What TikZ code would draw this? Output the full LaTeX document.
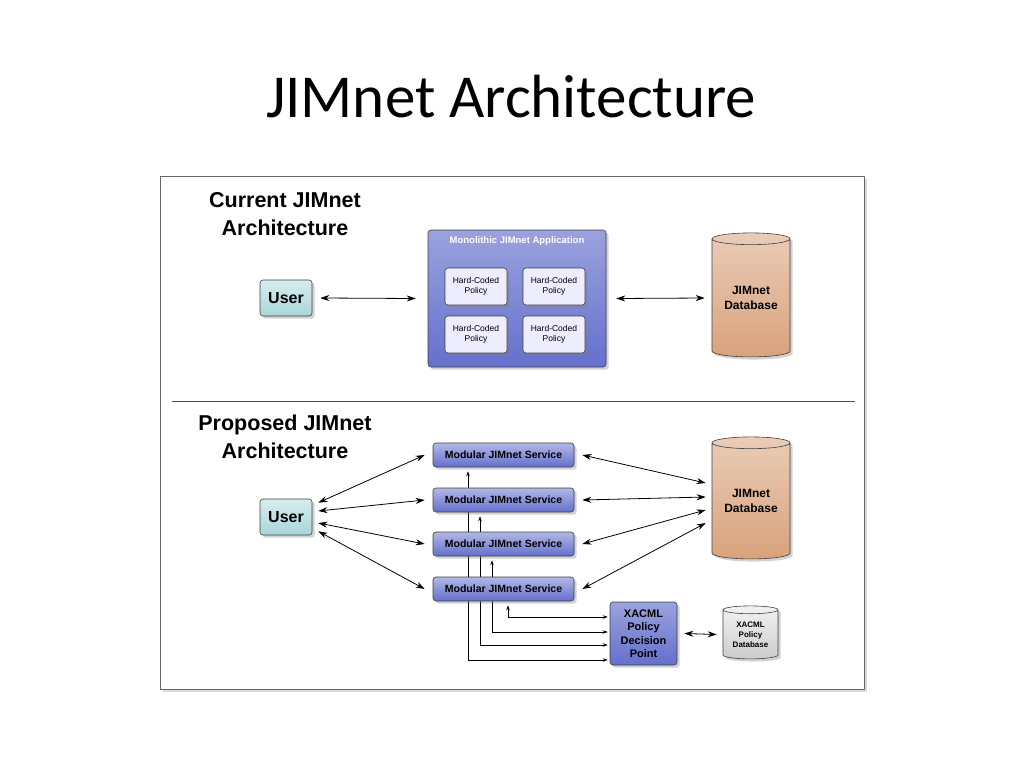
\documentclass[tikz,border=0pt]{standalone}
\usepackage{fontspec}
\setmainfont{Liberation Sans}
\newfontfamily\titlefont{Carlito}
\usetikzlibrary{shapes.geometric,shadows,backgrounds,arrows.meta}
\definecolor{svcblue}{HTML}{6470CC}
\definecolor{usrteal}{HTML}{A8D6DA}
\definecolor{dbtan}{HTML}{D9A27C}
\tikzset{box/.style = {draw=black!75, semithick, rounded corners=3pt, drop shadow={opacity=.35}},
         svc/.style = {box, top color=svcblue!50, bottom color=svcblue, minimum width=141pt, minimum height=24pt,
                       inner sep=0pt, font=\fontsize{10.5}{12}\bfseries\selectfont},
         usr/.style = {box, top color=usrteal!45, bottom color=usrteal, minimum width=52pt, minimum height=36pt,
                       font=\fontsize{16}{18}\bfseries\selectfont},
         hc/.style  = {box, fill=blue!7, minimum width=62pt, minimum height=37pt, inner sep=0pt, align=center,
                       font=\fontsize{8.5}{10}\selectfont},
         db/.style  = {cylinder, shape border rotate=90, draw=black!75, semithick, aspect=.22, align=center,
                       drop shadow={opacity=.35}, inner sep=0pt, font=\bfseries\selectfont},
         head/.style = {align=center, font=\fontsize{21.5}{28}\bfseries\selectfont},
         lnk/.style = {{Stealth[length=9pt,width=6pt]}-{Stealth[length=9pt,width=6pt]}, thick},
         pol/.style = {{Stealth[length=5pt,width=3.5pt]}-{Stealth[length=5pt,width=3.5pt]}, semithick}}
\begin{document}
\begin{tikzpicture}[x=1pt, y=-1pt]
  \useasboundingbox (0,0) rectangle (1024,768);
  \node[font=\titlefont\fontsize{61}{66}\selectfont] (title) at (511,97) {JIMnet Architecture};
  \coordinate (sepl) at (172,401); \coordinate (sepr) at (855,401);

  % current architecture
  \node[head] (cur) at (285,214) {Current JIMnet\\Architecture};
  \node[usr] (user1) at (286,298) {User};
  \node[box, top color=svcblue!65, bottom color=svcblue, minimum width=178pt, minimum height=137pt] (mono) at (517,298.5) {};
  \node[text=white, font=\fontsize{9.5}{11}\bfseries\selectfont] (monot) at (517,241) {Monolithic JIMnet Application};
  \node[hc] (hc1) at (476,286.5) {Hard-Coded\\Policy};
  \node[hc] (hc2) at (554,286.5) {Hard-Coded\\Policy};
  \node[hc] (hc3) at (476,334.5) {Hard-Coded\\Policy};
  \node[hc] (hc4) at (554,334.5) {Hard-Coded\\Policy};
  \node[db, top color=dbtan!55, bottom color=dbtan, minimum width=78pt, minimum height=124pt,
        font=\fontsize{12}{15}\bfseries\selectfont] (db1) at (751,298) {JIMnet\\Database};
  \draw[lnk] ([xshift=8pt]user1.east) -- ([xshift=-12pt]mono.west);
  \draw[lnk] ([xshift=10pt]mono.east) -- ([xshift=-7pt]db1.west);

  % proposed architecture
  \node[head] (prop) at (285,437) {Proposed JIMnet\\Architecture};
  \node[usr] (user2) at (286,517) {User};
  \node[svc] (s1) at (503.5,455) {Modular JIMnet Service};
  \node[svc] (s2) at (503.5,500) {Modular JIMnet Service};
  \node[svc] (s3) at (503.5,544) {Modular JIMnet Service};
  \node[svc] (s4) at (503.5,589) {Modular JIMnet Service};
  \node[db, top color=dbtan!55, bottom color=dbtan, minimum width=78pt, minimum height=122pt,
        font=\fontsize{12}{15}\bfseries\selectfont] (db2) at (751,501) {JIMnet\\Database};
  \node[box, top color=svcblue!65, bottom color=svcblue, minimum width=67pt, minimum height=63pt, align=center,
        font=\fontsize{11}{13.5}\bfseries\selectfont] (pdp) at (643.5,633.5) {XACML\\Policy\\Decision\\Point};
  \node[db, top color=black!5, bottom color=black!20, minimum width=55pt, minimum height=53pt,
        font=\fontsize{8}{10}\bfseries\selectfont] (xdb) at (750.5,634.5) {XACML\\Policy\\Database};

  \draw[lnk] ([shift={(6pt,-4pt)}]user2.north east) -- ([xshift=-8pt]s1.west);
  \draw[lnk] ([shift={(6pt,6pt)}]user2.east) -- ([xshift=-8pt]s2.west);
  \draw[lnk] ([shift={(6pt,-6pt)}]user2.east) -- ([xshift=-8pt]s3.west);
  \draw[lnk] ([shift={(6pt,4pt)}]user2.south east) -- ([xshift=-8pt]s4.west);
  \draw[lnk] ([xshift=8pt]s1.east) -- ([shift={(-6pt,18pt)}]db2.west);
  \draw[lnk] ([xshift=8pt]s2.east) -- ([shift={(-6pt,4pt)}]db2.west);
  \draw[lnk] ([xshift=8pt]s3.east) -- ([shift={(-6pt,-9pt)}]db2.west);
  \draw[lnk] ([xshift=8pt]s4.east) -- ([shift={(-6pt,-22pt)}]db2.west);
  \draw[lnk] ([xshift=7pt]pdp.east) -- ([xshift=-6pt]xdb.west);
  \begin{scope}[on background layer]
    \node[draw=black!60, thick, fill=white, minimum width=704pt, minimum height=513pt, drop shadow={opacity=.3}]
      (frame) at (512,432.5) {};
    \draw[black!70] (sepl) -- (sepr);
    \draw[pol] ([xshift=4.5pt,yshift=-4pt]s4.south) |- ([xshift=-2pt,yshift=16.5pt]pdp.west);
    \draw[pol] ([xshift=-11.5pt,yshift=-4pt]s3.south) |- ([xshift=-2pt,yshift=1.5pt]pdp.west);
    \draw[pol] ([xshift=-23.5pt,yshift=-4pt]s2.south) |- ([xshift=-2pt,yshift=-11.5pt]pdp.west);
    \draw[pol] ([xshift=-35.5pt,yshift=-4pt]s1.south) |- ([xshift=-2pt,yshift=-26.5pt]pdp.west);
  \end{scope}
\end{tikzpicture}
\end{document}
